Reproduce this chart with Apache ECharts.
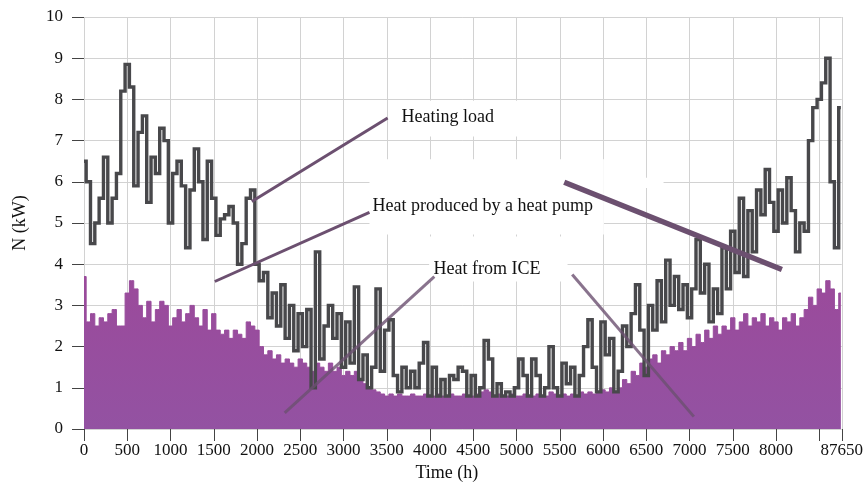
<!DOCTYPE html>
<html><head><meta charset="utf-8">
<script src="https://cdn.jsdelivr.net/npm/echarts@6/dist/echarts.min.js"></script>
<style>html,body{margin:0;padding:0;background:#fff}#c{width:866px;height:490px}</style>
</head><body><div id="c"></div>
<script>
// sampling grid: one value every 50 h, starting at hour 0
const STEP_HOURS = 50;
// Heating load (kW)
const heatingLoad = [
 6.5,6.0,4.5,5.0,5.6,6.6,5.0,5.6,6.2,8.2,
 8.85,8.3,5.9,7.2,7.6,5.5,6.6,6.2,7.3,7.0,
 5.0,6.2,6.5,5.9,4.4,5.8,6.8,6.0,4.6,6.5,
 5.6,4.7,5.1,5.2,5.4,5.0,4.0,4.5,5.6,5.8,
 4.0,3.6,3.8,2.7,3.3,2.5,3.5,2.2,3.0,1.9,
 2.8,2.0,2.9,1.0,4.3,1.7,2.5,3.0,2.2,2.8,
 1.5,2.6,1.6,3.45,1.2,1.8,1.0,1.5,3.4,1.4,
 2.4,2.65,1.3,0.9,1.5,1.0,1.4,1.0,1.6,2.1,
 0.8,1.5,0.8,1.2,0.8,1.3,1.2,1.5,1.4,0.8,
 1.3,0.8,1.0,2.15,1.7,0.8,1.1,0.8,0.9,0.8,
 1.0,1.7,1.3,0.8,1.7,1.3,0.8,1.0,2.0,1.0,
 0.8,1.6,1.1,1.5,0.8,1.3,2.0,2.65,1.5,0.9,
 2.6,1.8,2.2,0.9,1.4,2.5,2.0,2.8,3.5,2.4,
 1.3,3.0,2.4,3.6,2.6,4.1,3.0,3.7,2.9,3.5,
 2.7,3.4,4.6,3.3,4.0,2.6,3.4,2.8,4.4,3.4,
 4.8,3.8,5.6,3.7,5.3,4.3,5.8,5.2,6.3,5.5,
 4.8,5.8,5.0,6.1,5.3,4.3,5.0,4.8,7.0,7.8,
 8.0,8.4,9.0,6.0,4.4,7.8
];
// Heat produced by the heat pump + ICE (kW), purple area
const heatProduced = [
 3.7,2.6,2.8,2.5,2.7,2.6,2.8,2.9,2.5,2.5,
 3.3,3.6,3.4,3.0,2.7,3.1,2.6,2.9,3.1,3.0,
 2.5,2.7,2.9,2.6,2.8,3.0,2.7,2.5,2.9,2.4,
 2.8,2.4,2.3,2.4,2.2,2.4,2.3,2.2,2.6,2.5,
 2.4,2.0,1.8,1.9,1.7,1.8,1.6,1.7,1.6,1.5,
 1.7,1.6,1.5,1.4,1.6,1.5,1.4,1.6,1.4,1.5,
 1.3,1.4,1.3,1.4,1.2,1.1,1.0,0.95,0.9,0.85,
 0.8,0.85,0.8,0.85,0.8,0.8,0.85,0.8,0.8,0.85,
 0.8,0.8,0.85,0.8,0.8,0.85,0.8,0.8,0.85,0.8,
 0.8,0.85,0.9,0.95,0.9,0.8,0.85,0.8,0.8,0.85,
 0.8,0.8,0.85,0.8,0.8,0.85,0.8,0.8,0.9,0.85,
 0.8,0.85,0.8,0.85,0.8,0.9,0.85,0.9,0.85,0.9,
 0.95,0.9,1.0,0.9,1.0,1.2,1.1,1.4,1.3,1.6,
 1.5,1.7,1.8,1.6,1.9,1.8,2.0,1.9,2.1,1.9,
 2.2,2.0,2.3,2.1,2.4,2.2,2.5,2.3,2.5,2.4,
 2.7,2.4,2.6,2.8,2.5,2.7,2.6,2.8,2.5,2.7,
 2.6,2.4,2.7,2.6,2.8,2.5,2.7,2.9,3.2,3.0,
 3.4,3.3,3.6,3.4,2.9,3.3
];
// axis labels
const xTickLabels = {8500: '', 8760: '87650'};
const annotationTexts = ['Heating load', 'Heat produced by a heat pump', 'Heat from ICE'];

const hours = heatingLoad.map((_, i) => i * STEP_HOURS);
const FONT = '"Liberation Serif", "Times New Roman", serif';

// annotation leader lines in data coordinates
const leaders = [
  {a:[1940,5.52], b:[3510,7.55], w:3},
  {a:[1512,3.58], b:[3300,5.26], w:3},
  {a:[2320,0.39], b:[4050,3.70], w:3, o:0.8},
  {a:[5552,5.99], b:[8068,3.87], w:5.5},
  {a:[5644,3.75], b:[7050,0.30], w:3, o:0.8}
];

const chart = echarts.init(document.getElementById('c'), null, {renderer:'canvas'});
const option = {
  animation: false,
  backgroundColor: '#fff',
  grid: {left: 84, right: 23, top: 17, bottom: 61},
  xAxis: {
    type: 'value', min: 0, max: 8760, interval: 500,
    name: 'Time (h)', nameLocation: 'middle', nameGap: 33,
    nameTextStyle: {fontFamily: FONT, fontSize: 18, color: '#111', padding: [0, 32, 0, 0]},
    axisLine: {show: false},
    axisTick: {show: true, length: 12, lineStyle: {color: '#444', width: 1}},
    axisLabel: {fontFamily: FONT, fontSize: 17, color: '#111', margin: 13,
      formatter: v => (v in xTickLabels ? xTickLabels[v] : String(v))},
    splitLine: {show: true, lineStyle: {color: '#d2d2d2', width: 1}}
  },
  yAxis: {
    type: 'value', min: 0, max: 10, interval: 1,
    name: 'N (kW)', nameLocation: 'middle', nameGap: 55,
    nameTextStyle: {fontFamily: FONT, fontSize: 18, color: '#111'},
    axisLine: {show: false},
    axisTick: {show: true, length: 12, lineStyle: {color: '#444', width: 1}},
    axisLabel: {fontFamily: FONT, fontSize: 17, color: '#111', margin: 21},
    splitLine: {show: true, lineStyle: {color: '#d2d2d2', width: 1}}
  },
  series: [
    {
      name: 'Heat produced', type: 'line', step: 'middle', symbol: 'none', z: 2,
      data: hours.map((h, i) => [h, heatProduced[i]]),
      lineStyle: {width: 1, color: '#984c9c'},
      areaStyle: {color: {type:'linear', x:0, y:0, x2:0, y2:1,
        colorStops:[{offset:0,color:'#9b4a9b'},{offset:1,color:'#9352a2'}]}, opacity: 1}
    },
    {
      name: 'Heating load', type: 'line', step: 'middle', symbol: 'none', z: 3,
      data: hours.map((h, i) => [h, heatingLoad[i]]),
      lineStyle: {width: 3.4, color: '#48484b', join: 'miter'},
      markLine: {
        silent: true, symbol: ['none', 'none'], animation: false,
        label: {show: false},
        data: leaders.map(l => [
          {coord: l.a, lineStyle: {color: '#6c5070', width: l.w, type: 'solid', opacity: l.o || 1}},
          {coord: l.b}
        ])
      }
    }
  ]
};
chart.setOption(option);

const P = (x, y) => chart.convertToPixel({xAxisIndex: 0, yAxisIndex: 0}, [x, y]);
function box(x1, y1, x2, y2) {
  const a = P(x1, y1), b = P(x2, y2);
  return {type: 'rect', z: 1, silent: true,
    shape: {x: a[0], y: a[1], width: b[0] - a[0], height: b[1] - a[1]},
    style: {fill: '#fff'}};
}
function label(txt, x, y) {
  const p = P(x, y);
  return {type: 'text', z: 20, silent: true, x: p[0], y: p[1],
    style: {text: txt, font: '18px ' + FONT, fill: '#111', verticalAlign: 'middle', align: 'left'}};
}
chart.setOption({
  graphic: [
    box(3600, 7.97, 5450, 7.10),
    box(3300, 6.55, 6010, 4.72),
    box(6010, 6.10, 6700, 5.85),
    box(3990, 4.67, 5590, 3.58),
    label(annotationTexts[0], 3670, 7.57),
    label(annotationTexts[1], 3336, 5.40),
    label(annotationTexts[2], 4040, 3.87)
  ]
});
</script>
</body></html>
